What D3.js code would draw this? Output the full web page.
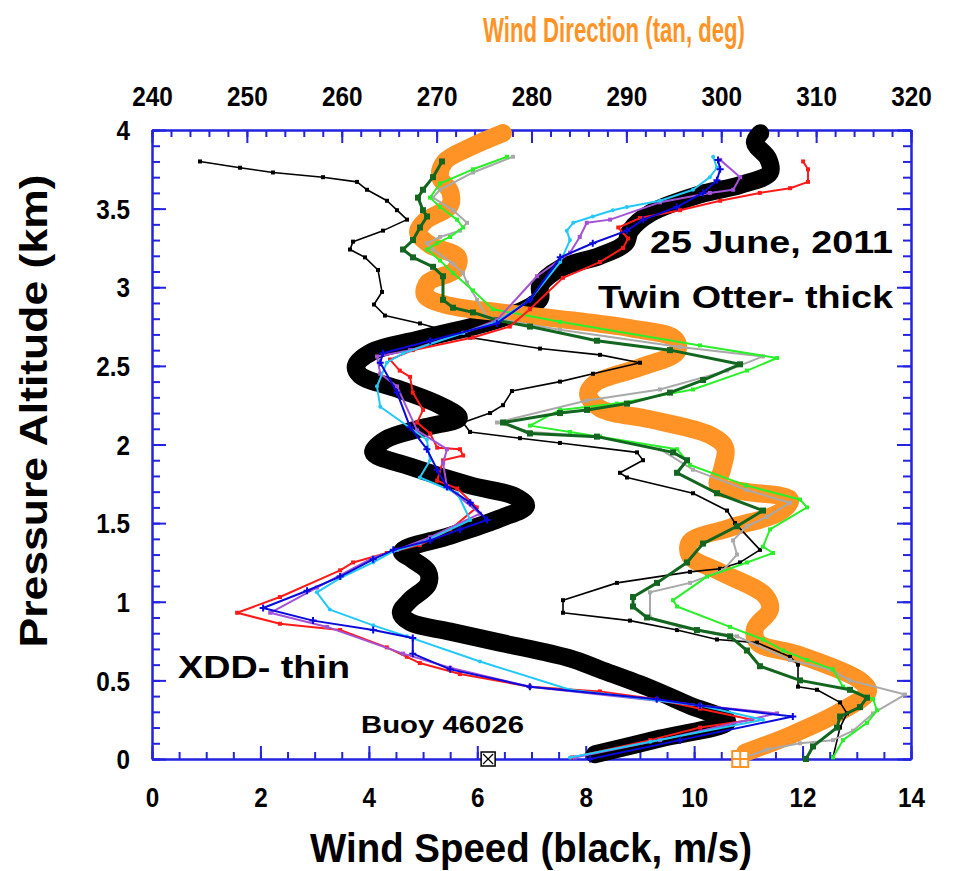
<!DOCTYPE html>
<html>
<head>
<meta charset="utf-8">
<script src="https://cdn.jsdelivr.net/npm/d3@7"></script>
<style>
  html, body { margin: 0; padding: 0; background: #ffffff; }
  svg text { font-family: "Liberation Sans", Arial, sans-serif; font-weight: bold; }
</style>
</head>
<body>
<svg id="chart" width="955" height="871"></svg>
<script>
// ---- axis tick values ----
const speedTicks = [0, 2, 4, 6, 8, 10, 12, 14];
const dirTicks = [240, 250, 260, 270, 280, 290, 300, 310, 320];
const altTicks = [0, 0.5, 1, 1.5, 2, 2.5, 3, 3.5, 4];

// ---- Twin Otter profiles: [value, altitude km] ----
const toSpeed = [[8.17,0.03],[9.37,0.13],[10.61,0.24],[9.92,0.34],[9.19,0.45],[8.26,0.57],[7.71,0.64],[6.42,0.74],[5.50,0.81],[4.76,0.87],[4.59,0.93],[4.76,1.01],[5.09,1.11],[5.09,1.19],[4.80,1.27],[4.61,1.32],[5.50,1.42],[6.42,1.53],[6.90,1.61],[6.70,1.67],[5.87,1.74],[4.76,1.86],[4.08,1.95],[4.30,2.03],[5.04,2.11],[5.66,2.17],[5.31,2.25],[4.57,2.35],[3.84,2.44],[3.76,2.50],[4.06,2.59],[4.94,2.67],[6.24,2.78],[6.88,2.86],[7.16,2.93],[7.16,3.01],[7.53,3.12],[8.26,3.20],[8.73,3.28],[8.82,3.36],[9.19,3.47],[10.11,3.59],[10.85,3.65],[11.40,3.73],[11.36,3.82],[11.12,3.92],[11.22,3.98]];
const toDir = [[276.99,3.98],[273.52,3.89],[270.88,3.80],[270.36,3.70],[271.41,3.61],[271.41,3.52],[268.77,3.42],[268.04,3.35],[269.30,3.27],[272.25,3.19],[271.94,3.11],[269.09,3.03],[268.77,2.95],[270.88,2.89],[276.68,2.84],[284.06,2.79],[290.38,2.74],[295.13,2.67],[295.34,2.59],[291.44,2.49],[286.69,2.39],[285.96,2.32],[287.22,2.23],[292.49,2.16],[298.81,2.06],[300.40,1.98],[300.08,1.84],[299.66,1.74],[302.50,1.70],[307.25,1.65],[306.19,1.57],[300.92,1.47],[296.71,1.38],[296.71,1.29],[299.87,1.19],[304.61,1.04],[305.14,0.95],[303.56,0.83],[303.87,0.74],[308.30,0.66],[314.62,0.50],[315.47,0.43],[312.52,0.30],[307.25,0.15],[302.50,0.04]];

// ---- XDD dropsonde wind speed profiles ----
const xddSpeedRed = [[7.75,0.01],[9.19,0.12],[10.11,0.20],[11.07,0.25],[10.11,0.32],[9.31,0.38],[8.26,0.43],[6.97,0.46],[5.68,0.54],[4.94,0.61],[4.70,0.65],[4.33,0.71],[3.47,0.82],[2.36,0.86],[1.57,0.93],[2.36,1.03],[3.47,1.20],[3.71,1.25],[4.33,1.31],[4.94,1.36],[5.50,1.46],[5.99,1.60],[5.63,1.72],[5.26,1.77],[5.37,1.90],[5.74,1.93],[5.68,1.97],[5.26,1.98],[5.13,2.07],[4.89,2.14],[5.00,2.22],[4.81,2.33],[4.76,2.43],[4.57,2.47],[4.39,2.54],[4.81,2.60],[5.92,2.68],[6.60,2.75],[6.97,2.86],[7.58,3.06],[8.26,3.16],[8.69,3.25],[8.78,3.31],[8.60,3.38],[9.00,3.44],[9.74,3.49],[10.48,3.55],[11.21,3.60],[11.77,3.63],[12.10,3.67],[12.10,3.75],[12.01,3.80]];
const xddSpeedPurple = [[7.80,0.01],[9.37,0.12],[11.53,0.29],[10.11,0.34],[6.97,0.46],[5.50,0.58],[4.63,0.67],[3.23,0.84],[2.18,0.93],[3.04,1.09],[4.08,1.28],[4.52,1.33],[5.13,1.41],[6.05,1.56],[5.44,1.73],[5.37,1.88],[5.44,1.97],[4.89,2.09],[4.52,2.37],[4.21,2.45],[4.15,2.56],[4.76,2.60],[5.74,2.71],[6.36,2.79],[7.10,3.07],[7.71,3.22],[7.89,3.32],[8.02,3.41],[8.45,3.43],[9.37,3.54],[10.29,3.60],[10.72,3.62],[10.85,3.70],[10.48,3.81]];
const xddSpeedBlue = [[8.08,0.00],[9.74,0.12],[11.82,0.27],[10.11,0.34],[9.31,0.38],[6.97,0.46],[5.50,0.57],[4.81,0.67],[4.81,0.77],[4.08,0.82],[2.97,0.88],[2.05,0.96],[2.86,1.07],[3.47,1.16],[4.08,1.27],[4.45,1.33],[5.13,1.39],[5.68,1.46],[6.18,1.52],[5.87,1.63],[5.44,1.73],[5.26,1.84],[5.07,1.97],[4.76,2.11],[4.52,2.33],[4.21,2.52],[4.26,2.58],[5.13,2.66],[6.36,2.77],[6.97,2.92],[7.53,3.19],[8.13,3.28],[8.76,3.36],[9.06,3.43],[9.68,3.51],[10.16,3.60],[10.42,3.68],[10.48,3.75],[10.44,3.81]];
const xddSpeedCyan = [[7.71,0.01],[9.19,0.11],[11.27,0.25],[10.11,0.34],[7.71,0.44],[6.05,0.62],[4.70,0.78],[4.08,0.85],[3.28,0.95],[3.04,1.06],[3.47,1.15],[4.08,1.25],[4.45,1.32],[4.94,1.37],[5.87,1.52],[5.63,1.69],[4.94,1.79],[5.13,1.90],[5.07,2.03],[4.21,2.24],[4.15,2.37],[4.33,2.52],[4.63,2.58],[5.74,2.71],[6.36,2.78],[6.97,2.92],[7.53,3.16],[7.71,3.30],[7.65,3.36],[7.77,3.41],[8.13,3.45],[8.50,3.49],[8.76,3.51],[9.37,3.55],[9.98,3.62],[10.29,3.70],[10.42,3.76],[10.35,3.83]];

// ---- XDD dropsonde wind direction profiles ----
const xddDirBlack = [[245.06,3.80],[249.28,3.76],[252.75,3.73],[258.02,3.70],[261.61,3.67],[262.66,3.62],[264.77,3.55],[265.82,3.49],[266.88,3.43],[264.35,3.36],[261.19,3.29],[260.87,3.24],[262.45,3.19],[263.82,3.11],[264.24,2.97],[263.40,2.89],[264.56,2.82],[268.25,2.77],[273.52,2.68],[280.90,2.61],[287.22,2.57],[291.44,2.52],[286.48,2.45],[283.00,2.40],[277.94,2.34],[277.00,2.25],[275.63,2.20],[272.78,2.14],[273.52,2.08],[278.79,2.04],[283.00,2.01],[291.12,1.95],[291.75,1.90],[289.33,1.82],[290.07,1.79],[297.02,1.69],[300.61,1.58],[301.45,1.50],[304.08,1.33],[301.98,1.25],[299.87,1.21],[296.71,1.19],[289.01,1.12],[283.32,1.01],[283.32,0.93],[290.38,0.88],[295.34,0.82],[299.55,0.76],[303.77,0.74],[307.25,0.65],[308.09,0.60],[308.09,0.46],[310.09,0.44],[312.52,0.36],[313.25,0.29],[312.52,0.20],[311.78,0.01]];
const xddDirLime = [[277.42,3.83],[273.83,3.75],[270.36,3.66],[269.30,3.57],[270.36,3.51],[272.15,3.43],[272.78,3.38],[271.41,3.32],[270.04,3.28],[268.99,3.24],[270.36,3.17],[271.73,3.09],[273.83,2.98],[275.94,2.86],[283.00,2.78],[297.76,2.63],[305.88,2.55],[302.71,2.47],[297.02,2.35],[289.01,2.26],[283.00,2.22],[279.84,2.12],[284.06,2.08],[287.22,2.05],[295.34,1.97],[296.71,1.87],[302.60,1.74],[308.30,1.65],[309.04,1.60],[305.14,1.46],[304.40,1.35],[305.46,1.31],[302.71,1.25],[298.50,1.16],[294.92,1.01],[295.34,0.97],[300.92,0.84],[304.40,0.76],[306.51,0.69],[309.04,0.63],[311.78,0.57],[312.83,0.46],[316.00,0.38],[316.42,0.31],[315.36,0.23],[312.83,0.12],[311.78,0.01]];
const xddDirGray = [[278.05,3.83],[273.83,3.73],[270.36,3.62],[269.62,3.57],[271.73,3.49],[273.20,3.41],[272.46,3.36],[270.36,3.32],[268.99,3.28],[269.62,3.24],[271.73,3.15],[272.78,3.09],[273.20,3.03],[274.26,2.92],[275.31,2.81],[283.00,2.73],[295.65,2.62],[304.40,2.56],[300.61,2.47],[293.54,2.35],[285.85,2.28],[276.36,2.14],[279.84,2.08],[287.22,2.05],[293.54,1.97],[297.02,1.84],[302.71,1.71],[307.25,1.63],[304.82,1.54],[302.71,1.48],[301.24,1.39],[301.66,1.30],[300.18,1.20],[296.71,1.12],[292.49,1.06],[292.49,0.90],[295.65,0.84],[301.66,0.78],[307.25,0.63],[311.46,0.57],[313.57,0.50],[319.37,0.41],[315.99,0.29],[313.89,0.18],[311.78,0.12],[308.30,0.10],[304.82,0.06],[302.50,0.01]];
const xddDirGreen = [[270.57,3.80],[269.62,3.70],[268.56,3.62],[268.04,3.57],[268.56,3.49],[268.99,3.45],[268.25,3.38],[267.51,3.30],[266.46,3.24],[267.51,3.19],[269.62,3.13],[270.67,3.07],[270.67,2.92],[271.73,2.87],[273.83,2.84],[276.36,2.79],[279.84,2.75],[286.90,2.66],[294.60,2.60],[301.98,2.51],[298.08,2.41],[294.60,2.33],[290.07,2.26],[285.85,2.22],[283.00,2.20],[277.00,2.14],[279.84,2.07],[286.90,2.05],[294.92,1.95],[296.39,1.90],[295.34,1.82],[299.55,1.69],[304.40,1.58],[301.66,1.48],[298.08,1.37],[296.39,1.25],[293.23,1.12],[290.70,1.03],[290.70,0.97],[292.17,0.90],[297.44,0.82],[300.92,0.78],[302.71,0.69],[304.08,0.59],[308.30,0.50],[313.57,0.44],[315.36,0.39],[314.62,0.33],[312.52,0.27],[312.20,0.20],[309.67,0.08],[308.93,0.00]];

// ---- surface buoy observation ----
const buoySpeed = 6.2;
const buoyDir = 302;

// ---- layout ----
const svg = d3.select("#chart");
const plot = { left: 152, right: 911, top: 130, bottom: 759 };
const axisBlue = "#2323e0";
const orange = "#ff9326";

const xSpeed = d3.scaleLinear().domain([0, 14]).range([plot.left, plot.right]);
const xDir = d3.scaleLinear().domain([240, 320]).range([plot.left, plot.right]);
const y = d3.scaleLinear().domain([0, 4]).range([plot.bottom, plot.top]);

// squeeze bold labels a little horizontally
function squeeze(sel, k) {
  sel.each(function () {
    const w = this.getComputedTextLength();
    this.setAttribute("textLength", (w * k).toFixed(1));
    this.setAttribute("lengthAdjust", "spacingAndGlyphs");
  });
}

// ---- axes (ticks point inward) ----
function styleAxis(g) {
  g.select(".domain").attr("stroke", axisBlue).attr("stroke-width", 2);
  g.selectAll(".tick line").attr("stroke", axisBlue).attr("stroke-width", 2);
  g.selectAll(".tick text").attr("fill", "#000").attr("font-size", 27)
    .attr("font-family", "'Liberation Sans', Arial, sans-serif").attr("font-weight", "bold");
}

const minorSpeed = d3.range(0, 14.01, 0.5);
const minorDir = d3.range(240, 320.1, 2);
const minorAlt = d3.range(0, 4.001, 0.1);

// bottom: wind speed
const gBottomMinor = svg.append("g").attr("transform", `translate(0,${plot.bottom})`)
  .call(d3.axisBottom(xSpeed).tickValues(minorSpeed).tickSize(-7).tickSizeOuter(0).tickFormat(""));
styleAxis(gBottomMinor);
const gBottom = svg.append("g").attr("transform", `translate(0,${plot.bottom})`)
  .call(d3.axisBottom(xSpeed).tickValues(speedTicks).tickSize(-13).tickSizeOuter(0).tickFormat(d3.format("d")));
styleAxis(gBottom);
gBottom.selectAll(".tick text").attr("y", 48).attr("dy", 0);

// top: wind direction
const gTopMinor = svg.append("g").attr("transform", `translate(0,${plot.top})`)
  .call(d3.axisTop(xDir).tickValues(minorDir).tickSize(-7).tickSizeOuter(0).tickFormat(""));
styleAxis(gTopMinor);
const gTop = svg.append("g").attr("transform", `translate(0,${plot.top})`)
  .call(d3.axisTop(xDir).tickValues(dirTicks).tickSize(-13).tickSizeOuter(0).tickFormat(d3.format("d")));
styleAxis(gTop);
gTop.selectAll(".tick text").attr("y", -24).attr("dy", 0);

// left: altitude
const gLeftMinor = svg.append("g").attr("transform", `translate(${plot.left},0)`)
  .call(d3.axisLeft(y).tickValues(minorAlt).tickSize(-8).tickSizeOuter(0).tickFormat(""));
styleAxis(gLeftMinor);
const gLeft = svg.append("g").attr("transform", `translate(${plot.left},0)`)
  .call(d3.axisLeft(y).tickValues(altTicks).tickSize(-14).tickSizeOuter(0).tickFormat(d3.format("~g")));
styleAxis(gLeft);
gLeft.selectAll(".tick text").attr("x", -22).attr("dy", "0.36em");

// right: altitude (no labels)
const gRightMinor = svg.append("g").attr("transform", `translate(${plot.right},0)`)
  .call(d3.axisRight(y).tickValues(minorAlt).tickSize(-8).tickSizeOuter(0).tickFormat(""));
styleAxis(gRightMinor);
const gRight = svg.append("g").attr("transform", `translate(${plot.right},0)`)
  .call(d3.axisRight(y).tickValues(altTicks).tickSize(-14).tickSizeOuter(0).tickFormat(""));
styleAxis(gRight);

squeeze(svg.selectAll(".tick text"), 0.9);

// ---- profile lines ----
const lineSpeed = (curve) => d3.line().x(d => xSpeed(d[0])).y(d => y(d[1])).curve(curve);
const lineDir = (curve) => d3.line().x(d => xDir(d[0])).y(d => y(d[1])).curve(curve);
const smooth = d3.curveCatmullRom.alpha(0.5);

const marks = svg.append("g");

// thick Twin Otter profiles
marks.append("path").datum(toSpeed).attr("d", lineSpeed(smooth))
  .attr("fill", "none").attr("stroke", "#000").attr("stroke-width", 18)
  .attr("stroke-linecap", "round").attr("stroke-linejoin", "round");
marks.append("path").datum(toDir).attr("d", lineDir(smooth))
  .attr("fill", "none").attr("stroke", orange).attr("stroke-width", 18)
  .attr("stroke-linecap", "round").attr("stroke-linejoin", "round");

// thin XDD profiles
const dirSeries = [
  { data: xddDirBlack, color: "#000000", width: 1.6, marker: "square", size: 4 },
  { data: xddDirGray, color: "#a9a9a9", width: 2, marker: "square", size: 4 },
  { data: xddDirLime, color: "#2af02a", width: 2, marker: "square", size: 4 },
  { data: xddDirGreen, color: "#12661f", width: 3, marker: "square", size: 6 }
];
const speedSeries = [
  { data: xddSpeedRed, color: "#ff1a1a", width: 2, marker: "square", size: 4 },
  { data: xddSpeedPurple, color: "#a352d6", width: 2, marker: "square", size: 4 },
  { data: xddSpeedCyan, color: "#22c8f8", width: 2, marker: "circle", size: 4 },
  { data: xddSpeedBlue, color: "#0a0adc", width: 2, marker: "plus", size: 7 }
];

function drawSeries(s, xScale, lineGen) {
  const g = marks.append("g");
  g.append("path").datum(s.data).attr("d", lineGen(d3.curveLinear))
    .attr("fill", "none").attr("stroke", s.color).attr("stroke-width", s.width)
    .attr("stroke-linejoin", "round");
  const pts = g.selectAll(".pt").data(s.data).join("g")
    .attr("transform", d => `translate(${xScale(d[0])},${y(d[1])})`);
  if (s.marker === "square") {
    pts.append("rect").attr("x", -s.size / 2).attr("y", -s.size / 2)
      .attr("width", s.size).attr("height", s.size).attr("fill", s.color);
  } else if (s.marker === "circle") {
    pts.append("circle").attr("r", s.size / 2).attr("fill", s.color);
  } else {
    const h = s.size / 2;
    pts.append("path").attr("d", `M${-h},0H${h}M0,${-h}V${h}`)
      .attr("stroke", s.color).attr("stroke-width", 2);
  }
}
dirSeries.forEach(s => drawSeries(s, xDir, lineDir));
speedSeries.forEach(s => drawSeries(s, xSpeed, lineSpeed));

// ---- buoy markers on the surface ----
const bx = xSpeed(buoySpeed), by = y(0);
svg.append("rect").attr("x", bx - 7).attr("y", by - 7).attr("width", 14).attr("height", 14)
  .attr("fill", "#fff").attr("stroke", "#000").attr("stroke-width", 1.5);
svg.append("path").attr("d", `M${bx - 5},${by - 5}L${bx + 5},${by + 5}M${bx + 5},${by - 5}L${bx - 5},${by + 5}`)
  .attr("stroke", "#000").attr("stroke-width", 1.2);
const ox = xDir(buoyDir);
svg.append("rect").attr("x", ox - 8).attr("y", by - 8).attr("width", 16).attr("height", 16)
  .attr("fill", "#fff").attr("stroke", orange).attr("stroke-width", 2);
svg.append("path").attr("d", `M${ox - 8},${by}H${ox + 8}M${ox},${by - 8}V${by + 8}`)
  .attr("stroke", orange).attr("stroke-width", 2);

// ---- titles and annotations ----
function label(text, x, yPos, size, width, opts = {}) {
  const t = svg.append("text").attr("x", x).attr("y", yPos)
    .attr("font-size", size).attr("fill", opts.fill || "#000")
    .attr("text-anchor", opts.anchor || "start").text(text);
  if (opts.rotate) t.attr("transform", `rotate(-90,${x},${yPos})`);
  t.attr("textLength", width).attr("lengthAdjust", "spacingAndGlyphs");
  return t;
}
label("Wind Direction (tan, deg)", 614, 42, 35, 262, { anchor: "middle", fill: orange });
label("Wind Speed (black, m/s)", 531, 862, 40, 442, { anchor: "middle" });
label("Pressure Altitude (km)", 47, 411, 38, 473, { anchor: "middle", rotate: true });
label("25 June, 2011", 650, 253, 32, 243);
label("Twin Otter- thick", 598, 308, 32, 295);
label("XDD- thin", 178, 678, 32, 172);
label("Buoy 46026", 361, 733, 23, 163);
</script>
</body>
</html>
